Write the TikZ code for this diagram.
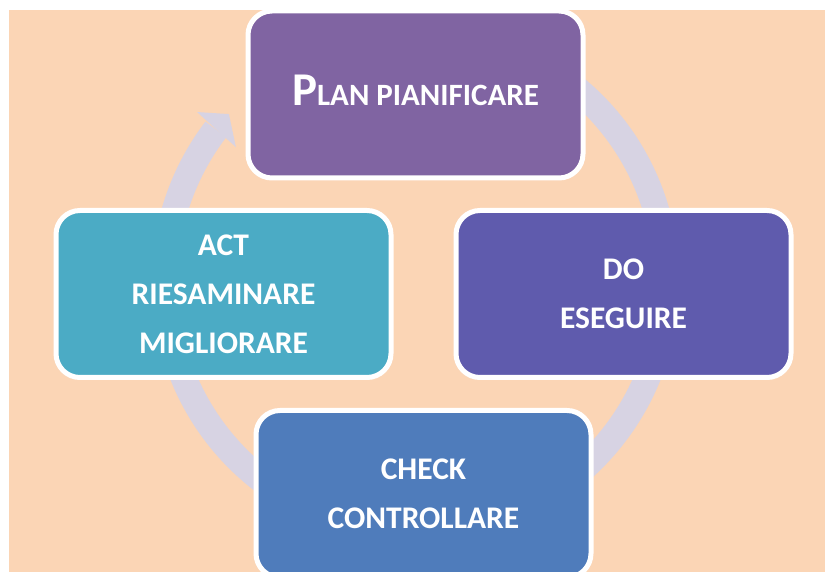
\documentclass[tikz,border=0pt]{standalone}
\usepackage{fontspec}
\setmainfont{Carlito}
\usetikzlibrary{calc}
\definecolor{peach}{HTML}{FBD5B5}
\definecolor{ringcol}{HTML}{D7D3E3}
\definecolor{plancol}{HTML}{8064A2}
\definecolor{docol}{HTML}{5F5BAD}
\definecolor{checkcol}{HTML}{4F7CBB}
\definecolor{actcol}{HTML}{4BABC5}
\begin{document}
\begin{tikzpicture}[x=1pt,y=1pt, line join=round,
	phase/.style={draw=white, line width=5pt, rounded corners=24pt,
		minimum width=335pt, minimum height=167pt, align=center,
		text=white, font=\bfseries\fontsize{31.5}{49}\selectfont}]
	\def\rr{251} \def\rw{26} % raggio e spessore del cerchio
	\useasboundingbox (0,0) rectangle (825,572);
	\fill[peach] (9,0) rectangle (825,562);
	\coordinate (c) at (415.5,290.5);
	% freccia circolare
	\draw[ringcol, line width=\rw pt] ($(c)+(142.7:\rr)$) arc[start angle=142.7, end angle=485, radius=\rr];
	\fill[ringcol] ($(c)+(142.2:276.5)$) -- ($(c)+(138.1:250.7)$) -- ($(c)+(143.2:224.3)$) -- cycle;
	% fasi
	\node[phase, fill=plancol] (plan) at (415.5,477.5)
		{\raisebox{9pt}{{\fontsize{47}{49}\selectfont P}{\fontsize{31}{49}\selectfont LAN PIANIFICARE}}};
	\node[phase, fill=docol] (do) at (623.5,278) {DO\\ESEGUIRE};
	\node[phase, fill=checkcol] (check) at (423.5,78) {CHECK\\CONTROLLARE};
	\node[phase, fill=actcol] (act) at (223.5,278) {ACT\\RIESAMINARE\\MIGLIORARE};
\end{tikzpicture}
\end{document}
